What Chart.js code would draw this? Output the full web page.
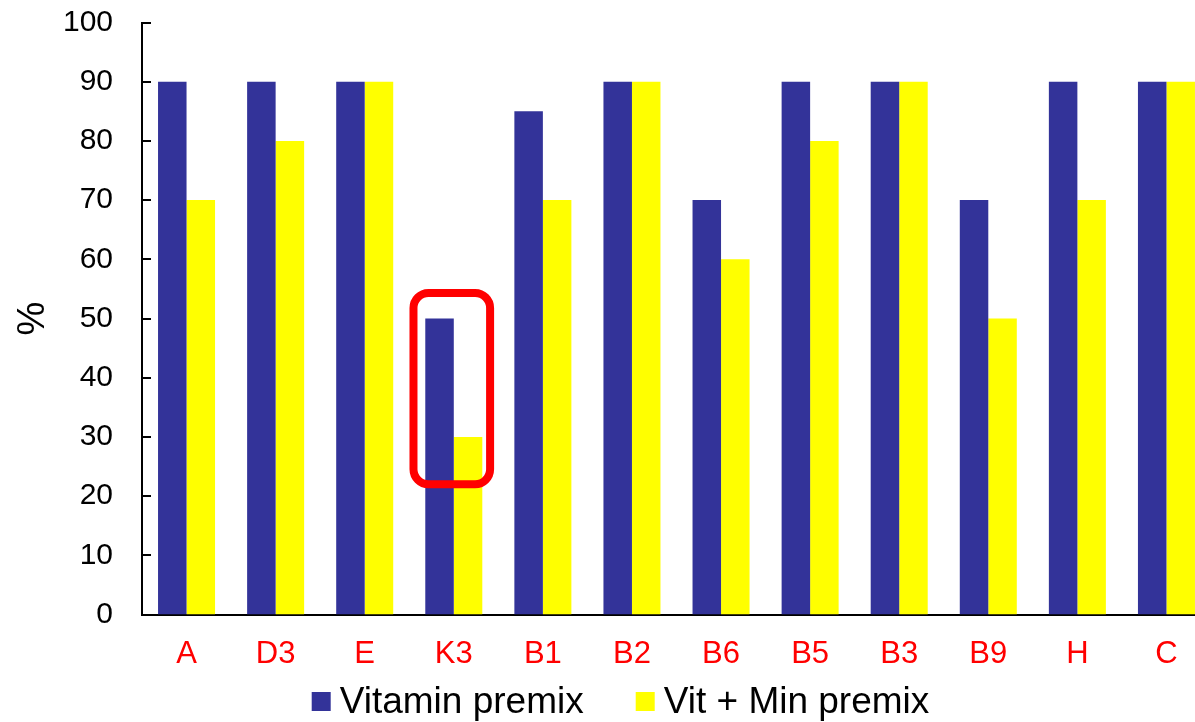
<!DOCTYPE html>
<html>
<head>
<meta charset="utf-8">
<script src="https://cdn.jsdelivr.net/npm/chart.js@4/dist/chart.umd.min.js"></script>
<style>
  html, body { margin: 0; padding: 0; background: #fff; overflow: hidden; }
  #wrap { width: 1241px; height: 722px; }
</style>
</head>
<body>
<div id="wrap"><canvas id="c" width="1241" height="722"></canvas></div>
<script>
// Vitamins tested
const categories = ['A', 'D3', 'E', 'K3', 'B1', 'B2', 'B6', 'B5', 'B3', 'B9', 'H', 'C'];

// Retention (%) per vitamin
const vitaminPremix = [90, 90, 90, 50, 85, 90, 70, 90, 90, 70, 90, 90];
const vitMinPremix  = [70, 80, 90, 30, 70, 90, 60, 80, 90, 50, 70, 90];

const seriesNames = ['Vitamin premix', 'Vit + Min premix'];
const yTicks = [0, 10, 20, 30, 40, 50, 60, 70, 80, 90, 100];

// Highlight frame around one category (value range on the y axis)
const highlight = { category: 'K3', from: 22, to: 54.3 };

const FONT = '"Liberation Sans", Arial, sans-serif';

// Short inward tick marks on the value axis
const inwardTicks = {
  id: 'inwardTicks',
  afterDraw(chart) {
    const { ctx, chartArea, scales: { y } } = chart;
    ctx.save();
    ctx.strokeStyle = '#000';
    ctx.lineWidth = 2;
    yTicks.forEach(v => {
      const py = Math.round(y.getPixelForValue(v));
      ctx.beginPath();
      ctx.moveTo(chartArea.left, py);
      ctx.lineTo(chartArea.left + 9, py);
      ctx.stroke();
    });
    ctx.restore();
  }
};

// Rounded red frame drawn through the scales
const highlightFrame = {
  id: 'highlightFrame',
  afterDatasetsDraw(chart) {
    const { ctx, scales: { x, y } } = chart;
    const idx = categories.indexOf(highlight.category);
    const cx = x.getPixelForValue(idx);
    const step = x.getPixelForValue(1) - x.getPixelForValue(0);
    const half = step * 0.43;
    const left = cx - half - 2, right = cx + half - 2;
    const top = y.getPixelForValue(highlight.to);
    const bottom = y.getPixelForValue(highlight.from);
    ctx.save();
    ctx.strokeStyle = '#ff0000';
    ctx.lineWidth = 8;
    ctx.beginPath();
    ctx.roundRect(left, top, right - left, bottom - top, 15);
    ctx.stroke();
    ctx.restore();
  }
};

// Legend drawn below the axis labels
const bottomLegend = {
  id: 'bottomLegend',
  afterDraw(chart) {
    const { ctx } = chart;
    const box = 19, gap = 9, itemGap = 52;
    ctx.save();
    ctx.font = '37px ' + FONT;
    const widths = chart.data.datasets.map(d => ctx.measureText(d.label).width);
    const total = widths.reduce((s, w) => s + box + gap + w, 0) + itemGap * (widths.length - 1);
    let xPos = chart.width / 2 - total / 2;
    const baseY = 713;
    chart.data.datasets.forEach((d, i) => {
      ctx.fillStyle = d.backgroundColor;
      ctx.fillRect(xPos, baseY - 21, box, box);
      ctx.fillStyle = '#000';
      ctx.textBaseline = 'alphabetic';
      ctx.textAlign = 'left';
      ctx.fillText(d.label, xPos + box + gap, baseY);
      xPos += box + gap + widths[i] + itemGap;
    });
    ctx.restore();
  }
};

new Chart(document.getElementById('c'), {
  type: 'bar',
  data: {
    labels: categories,
    datasets: [
      { label: seriesNames[0], data: vitaminPremix, backgroundColor: '#333399' },
      { label: seriesNames[1], data: vitMinPremix, backgroundColor: '#ffff00' }
    ]
  },
  options: {
    responsive: false,
    animation: false,
    devicePixelRatio: 1,
    layout: { padding: { top: 0, right: 30, bottom: 0, left: 0 } },
    datasets: { bar: { categoryPercentage: 0.64, barPercentage: 1.0 } },
    plugins: {
      legend: { display: false },
      tooltip: { enabled: false }
    },
    scales: {
      x: {
        grid: { display: false, drawTicks: false },
        border: { display: true, color: '#000', width: 2 },
        ticks: {
          color: '#ff0000',
          font: { family: FONT, size: 31 },
          padding: 21,
          maxRotation: 0,
          autoSkip: false
        },
        afterFit(scale) { scale.height = 107.5; }
      },
      y: {
        min: 0,
        max: 100,
        grid: { display: false, drawTicks: false },
        border: { display: true, color: '#000', width: 2 },
        ticks: {
          stepSize: 10,
          color: '#000',
          font: { family: FONT, size: 30 },
          padding: 29
        },
        title: {
          display: true,
          text: '%',
          color: '#000',
          font: { family: FONT, size: 38 },
          padding: { top: 11, bottom: 0 }
        },
        afterFit(scale) {
          scale.width = 142;
          scale.paddingTop = 22.5;
          scale.paddingBottom = 0;
        }
      }
    }
  },
  plugins: [inwardTicks, highlightFrame, bottomLegend]
});
</script>
</body>
</html>
